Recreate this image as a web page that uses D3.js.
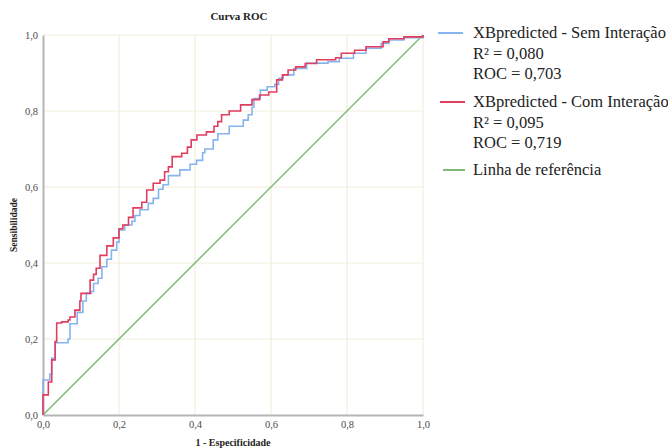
<!DOCTYPE html>
<html>
<head>
<meta charset="utf-8">
<script src="https://cdn.jsdelivr.net/npm/d3@7"></script>
<style>
  body { margin: 0; background: #fff; }
</style>
</head>
<body>
<div id="chart"></div>
<script>
// ROC points (1 - especificidade, sensibilidade)
var semFpr = [0, 0, 0.018, 0.023, 0.032, 0.066, 0.071, 0.09, 0.105, 0.114, 0.127, 0.133, 0.145, 0.155, 0.168, 0.18, 0.194, 0.2, 0.215, 0.234, 0.242, 0.255, 0.277, 0.29, 0.304, 0.316, 0.33, 0.36, 0.387, 0.404, 0.42, 0.426, 0.448, 0.46, 0.49, 0.527, 0.54, 0.55, 0.555, 0.572, 0.59, 0.61, 0.62, 0.632, 0.66, 0.694, 0.75, 0.78, 0.817, 0.85, 0.89, 0.91, 0.95, 1];
var semTpr = [0, 0.092, 0.108, 0.15, 0.19, 0.2, 0.24, 0.27, 0.30, 0.32, 0.325, 0.346, 0.36, 0.39, 0.41, 0.434, 0.455, 0.487, 0.5, 0.51, 0.525, 0.54, 0.557, 0.57, 0.594, 0.606, 0.63, 0.645, 0.66, 0.67, 0.69, 0.70, 0.724, 0.74, 0.76, 0.776, 0.79, 0.81, 0.833, 0.855, 0.864, 0.87, 0.886, 0.895, 0.912, 0.926, 0.93, 0.939, 0.952, 0.965, 0.978, 0.987, 0.993, 1];

var comFpr = [0, 0, 0.014, 0.023, 0.032, 0.036, 0.049, 0.066, 0.071, 0.084, 0.097, 0.10, 0.124, 0.133, 0.14, 0.15, 0.168, 0.185, 0.2, 0.21, 0.225, 0.237, 0.26, 0.273, 0.29, 0.308, 0.32, 0.33, 0.34, 0.365, 0.38, 0.39, 0.405, 0.43, 0.45, 0.46, 0.47, 0.49, 0.52, 0.55, 0.57, 0.594, 0.615, 0.63, 0.645, 0.665, 0.69, 0.72, 0.77, 0.785, 0.82, 0.85, 0.895, 0.91, 0.95, 1];
var comTpr = [0, 0.053, 0.087, 0.145, 0.193, 0.242, 0.245, 0.25, 0.258, 0.276, 0.30, 0.32, 0.355, 0.37, 0.386, 0.42, 0.445, 0.466, 0.49, 0.50, 0.52, 0.545, 0.56, 0.592, 0.61, 0.618, 0.64, 0.653, 0.68, 0.689, 0.705, 0.724, 0.737, 0.745, 0.76, 0.772, 0.79, 0.80, 0.816, 0.83, 0.842, 0.85, 0.882, 0.895, 0.908, 0.916, 0.925, 0.935, 0.94, 0.952, 0.96, 0.969, 0.982, 0.99, 0.995, 1];

var refLine = [0, 1];
var ticks = [0, 0.2, 0.4, 0.6, 0.8, 1.0];

var legendItems = [
  { color: "#86b4ef", lines: ["XBpredicted - Sem Interação", "R² = 0,080", "ROC = 0,703"] },
  { color: "#e23d5f", lines: ["XBpredicted - Com Interação", "R² = 0,095", "ROC = 0,719"] },
  { color: "#7fba76", lines: ["Linha de referência"] }
];

var serif = "'Liberation Serif', 'DejaVu Serif', serif";

var margin = { top: 35, left: 43 };
var size = 380;

var svg = d3.select("#chart").append("svg")
    .attr("width", 668)
    .attr("height", 448);

var g = svg.append("g")
    .attr("transform", "translate(" + margin.left + "," + margin.top + ")");

var x = d3.scaleLinear().domain([0, 1]).range([0, size]);
var y = d3.scaleLinear().domain([0, 1]).range([size, 0]);

var fmt = function (d) { return d3.format(".1f")(d).replace(".", ","); };

// grid
g.append("g").selectAll("line.gx")
    .data(ticks.slice(1))
    .enter().append("line")
    .attr("x1", function (d) { return x(d); })
    .attr("x2", function (d) { return x(d); })
    .attr("y1", 0).attr("y2", size)
    .style("stroke", "#f2eedb").style("stroke-width", "1.2px");

g.append("g").selectAll("line.gy")
    .data(ticks.slice(1))
    .enter().append("line")
    .attr("y1", function (d) { return y(d); })
    .attr("y2", function (d) { return y(d); })
    .attr("x1", 0).attr("x2", size)
    .style("stroke", "#f2eedb").style("stroke-width", "1.2px");

// axes
var xAxis = g.append("g")
    .attr("transform", "translate(0," + size + ")")
    .call(d3.axisBottom(x).tickValues(ticks).tickFormat(fmt).tickSize(0).tickPadding(6));
var yAxis = g.append("g")
    .call(d3.axisLeft(y).tickValues(ticks).tickFormat(fmt).tickSize(0).tickPadding(5));

[xAxis, yAxis].forEach(function (a) {
    a.attr("font-family", serif);
    a.select(".domain").style("stroke", "#b5b5b5").style("stroke-width", "2px");
    a.selectAll("text")
        .style("font-family", serif)
        .style("font-size", "10.5px")
        .style("fill", "#4a4a4a");
});

// reference diagonal
var diag = d3.line()
    .x(function (d) { return x(d); })
    .y(function (d) { return y(d); });

g.append("path")
    .datum(refLine)
    .attr("d", diag)
    .style("fill", "none")
    .style("stroke", legendItems[2].color)
    .style("stroke-width", "1.5px");

// ROC curves
var step = d3.line()
    .x(function (d) { return x(d[0]); })
    .y(function (d) { return y(d[1]); })
    .curve(d3.curveStepAfter);

g.append("path")
    .datum(d3.zip(semFpr, semTpr))
    .attr("d", step)
    .style("fill", "none")
    .style("stroke", legendItems[0].color)
    .style("stroke-width", "1.6px");

g.append("path")
    .datum(d3.zip(comFpr, comTpr))
    .attr("d", step)
    .style("fill", "none")
    .style("stroke", legendItems[1].color)
    .style("stroke-width", "1.6px");

// titles
svg.append("text")
    .attr("x", 239).attr("y", 20)
    .attr("text-anchor", "middle")
    .style("font-family", serif)
    .style("font-weight", "bold").style("font-size", "11px").style("fill", "#222")
    .text("Curva ROC");

svg.append("text")
    .attr("x", 233).attr("y", 446)
    .attr("text-anchor", "middle")
    .style("font-family", serif)
    .style("font-weight", "bold").style("font-size", "10px").style("fill", "#222")
    .text("1 - Especificidade");

svg.append("text")
    .attr("transform", "translate(17,225) rotate(-90)")
    .attr("text-anchor", "middle")
    .style("font-family", serif)
    .style("font-weight", "bold").style("font-size", "9.5px").style("fill", "#222")
    .text("Sensibilidade");

// legend
var legendTop = [38, 107, 175];
var legendLineX = [[438, 463], [440, 465], [443, 465]];

legendItems.forEach(function (item, i) {
    var lg = svg.append("g");
    lg.append("line")
        .attr("x1", legendLineX[i][0]).attr("x2", legendLineX[i][1])
        .attr("y1", legendTop[i] - 5).attr("y2", legendTop[i] - 5)
        .style("stroke", item.color).style("stroke-width", "2px");
    item.lines.forEach(function (t, j) {
        lg.append("text")
            .attr("x", 473)
            .attr("y", legendTop[i] + j * 20.5)
            .style("font-family", serif)
            .style("font-size", "16.5px").style("fill", "#222")
            .text(t);
    });
});
</script>
</body>
</html>
